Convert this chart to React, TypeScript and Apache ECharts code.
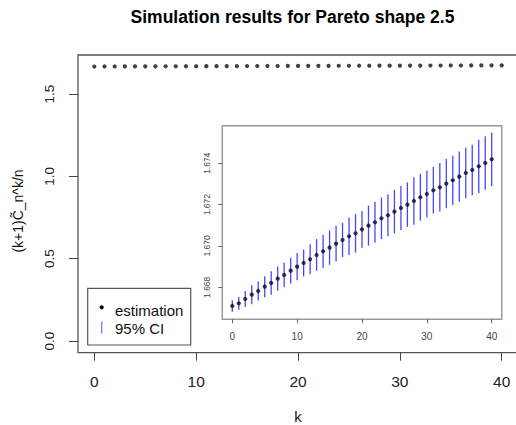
import React, { useEffect, useRef } from "react";
import * as echarts from "echarts";

const kValues = [0, 1, 2, 3, 4, 5, 6, 7, 8, 9, 10, 11, 12, 13, 14, 15, 16, 17, 18, 19, 20,
  21, 22, 23, 24, 25, 26, 27, 28, 29, 30, 31, 32, 33, 34, 35, 36, 37, 38, 39, 40];

const estimation = [1.667097, 1.667226, 1.667435, 1.667645, 1.667823, 1.668032, 1.66821,
  1.668419, 1.668597, 1.668806, 1.669, 1.669177, 1.669355, 1.669565, 1.669742, 1.669919,
  1.670113, 1.67029, 1.670468, 1.670613, 1.670806, 1.670984, 1.671145, 1.671339, 1.671484,
  1.671661, 1.671839, 1.672, 1.672177, 1.672355, 1.672516, 1.672694, 1.672839, 1.673016,
  1.673177, 1.673355, 1.673532, 1.673677, 1.673855, 1.674016, 1.674194];

const ciLower = [1.666815, 1.66692, 1.667048, 1.667185, 1.667363, 1.667524, 1.667645,
  1.66783, 1.668008, 1.668185, 1.668339, 1.668532, 1.668629, 1.668799, 1.668936, 1.669088,
  1.66925, 1.669467, 1.669557, 1.669678, 1.669919, 1.670016, 1.670153, 1.670331, 1.670468,
  1.670613, 1.670774, 1.670927, 1.671032, 1.671226, 1.671387, 1.671565, 1.671662, 1.671822,
  1.671983, 1.672145, 1.672306, 1.672451, 1.672565, 1.672726, 1.672904];

const ciUpper = [1.667379, 1.667532, 1.667822, 1.668105, 1.668283, 1.66854, 1.668775,
  1.669008, 1.669186, 1.669427, 1.669661, 1.669822, 1.670081, 1.670331, 1.670548, 1.67075,
  1.670976, 1.671113, 1.671379, 1.671548, 1.671693, 1.671952, 1.672137, 1.672347, 1.6725,
  1.672709, 1.672904, 1.673073, 1.673322, 1.673484, 1.673645, 1.673823, 1.674016, 1.67421,
  1.674371, 1.674565, 1.674758, 1.674903, 1.675145, 1.675306, 1.675484];

const xTicks = [0, 10, 20, 30, 40];
const yTicksMain = [0, 0.5, 1.0, 1.5];
const yTicksInset = [1.668, 1.67, 1.672, 1.674];

const TITLE = "Simulation results for Pareto shape 2.5";
const X_NAME = "k";
const Y_NAME = "(k+1)C\u0303_n^k/n";
const LEGEND_LABELS = ["estimation", "95% CI"];

const FONT = "'Liberation Sans', Arial, Helvetica, sans-serif";

export default function App() {
  const ref = useRef<HTMLDivElement>(null);

  useEffect(() => {
    if (!ref.current) return;
    const chart = echarts.init(ref.current, undefined, { renderer: "svg" });

    const pointData = kValues.map((k, i) => [k, estimation[i]]);
    const ciData = kValues.map((k, i) => [k, ciLower[i], ciUpper[i]]);

    const ciRender = (color: string, width: number) => (params: any, api: any) => {
      const x = api.value(0);
      const p1 = api.coord([x, api.value(1)]);
      const p2 = api.coord([x, api.value(2)]);
      return {
        type: "line",
        shape: { x1: p1[0], y1: p1[1], x2: p2[0], y2: p2[1] },
        style: { stroke: color, lineWidth: width },
      };
    };

    const option: any = {
      animation: false,
      backgroundColor: "#ffffff",
      grid: [
        {
          left: 78, top: 55, width: 440, height: 297.7,
          show: true, borderColor: "#555", borderWidth: 1.3, backgroundColor: "transparent",
          containLabel: false, outerBoundsMode: "none",
        },
        {
          left: 222.3, top: 125.7, width: 279.4, height: 193.6,
          show: true, borderColor: "#999", borderWidth: 1.5, backgroundColor: "#ffffff",
          containLabel: false, outerBoundsMode: "none", z: 5,
        },
      ],
      xAxis: [
        {
          type: "value", gridIndex: 0, min: -1.6, max: 41.6, position: "bottom",
          name: X_NAME, nameLocation: "middle", nameGap: 57,
          nameTextStyle: { fontSize: 15, lineHeight: 14, color: "#111", fontFamily: FONT },
          axisLine: { show: false, onZero: false }, splitLine: { show: false },
          axisTick: { show: true, inside: false, length: 8, customValues: xTicks, lineStyle: { color: "#444", width: 1 } },
          axisLabel: { customValues: xTicks, margin: 21, fontSize: 15.5, color: "#222", fontFamily: FONT },
        },
        {
          type: "value", gridIndex: 1, min: -1.54, max: 41.54, position: "bottom",
          axisLine: { show: false, onZero: false }, splitLine: { show: false },
          axisTick: { show: true, inside: false, length: 4, customValues: xTicks, lineStyle: { color: "#666", width: 1 } },
          axisLabel: { customValues: xTicks, margin: 12, fontSize: 10, color: "#444", fontFamily: FONT },
          z: 5,
        },
      ],
      yAxis: [
        {
          type: "value", gridIndex: 0, min: -0.071, max: 1.737, position: "left",
          axisLine: { show: false, onZero: false }, splitLine: { show: false },
          axisTick: { show: true, inside: false, length: 9, customValues: yTicksMain, lineStyle: { color: "#444", width: 1 } },
          axisLabel: {
            customValues: yTicksMain, rotate: 90, margin: 22, fontSize: 13.5, color: "#222", fontFamily: FONT,
            formatter: (v: number) => v.toFixed(1),
          },
        },
        {
          type: "value", gridIndex: 1, min: 1.666452, max: 1.675819, position: "left",
          axisLine: { show: false, onZero: false }, splitLine: { show: false },
          axisTick: { show: true, inside: false, length: 4, customValues: yTicksInset, lineStyle: { color: "#666", width: 1 } },
          axisLabel: {
            customValues: yTicksInset, rotate: 90, margin: 11, fontSize: 8.5, color: "#444", fontFamily: FONT,
            formatter: (v: number) => v.toFixed(3),
          },
          z: 5,
        },
      ],
      series: [
        {
          type: "scatter", xAxisIndex: 0, yAxisIndex: 0, data: pointData,
          symbol: "circle", symbolSize: 4.2, itemStyle: { color: "#111" }, z: 2,
        },
        {
          type: "custom", xAxisIndex: 0, yAxisIndex: 0, data: ciData,
          renderItem: ciRender("#2b2bff", 1), z: 3,
        },
        {
          type: "custom", xAxisIndex: 1, yAxisIndex: 1, data: ciData,
          renderItem: ciRender("#4646ff", 1.3), z: 6,
        },
        {
          type: "scatter", xAxisIndex: 1, yAxisIndex: 1, data: pointData,
          symbol: "circle", symbolSize: 4.2, itemStyle: { color: "#0a0a1a" }, z: 7,
        },
      ],
      graphic: [
        {
          type: "text", x: 292.5, y: 17,
          style: {
            text: TITLE, fontSize: 17.5, fontWeight: "bold", fill: "#000",
            fontFamily: FONT, textAlign: "center", textVerticalAlign: "middle",
          },
        },
        {
          type: "text", x: 18, y: 211, rotation: Math.PI / 2,
          style: {
            text: Y_NAME, fontSize: 14, fill: "#111",
            fontFamily: FONT, textAlign: "center", textVerticalAlign: "middle",
          },
        },
        {
          type: "rect", shape: { x: 87.7, y: 288.3, width: 103, height: 56.7 },
          style: { fill: "#fff", stroke: "#555", lineWidth: 1.2 }, z: 10,
        },
        {
          type: "circle", shape: { cx: 101.7, cy: 307.3, r: 2.1 },
          style: { fill: "#000" }, z: 11,
        },
        {
          type: "line", shape: { x1: 101.7, y1: 321.5, x2: 101.7, y2: 333.5 },
          style: { stroke: "#6a6aff", lineWidth: 1.2 }, z: 11,
        },
        {
          type: "text", x: 115, y: 310.7, z: 11,
          style: {
            text: LEGEND_LABELS[0], fontSize: 15, fill: "#111", fontFamily: FONT,
            textAlign: "left", textVerticalAlign: "middle",
          },
        },
        {
          type: "text", x: 115, y: 328.3, z: 11,
          style: {
            text: LEGEND_LABELS[1], fontSize: 15, fill: "#111", fontFamily: FONT,
            textAlign: "left", textVerticalAlign: "middle",
          },
        },
      ],
    };

    chart.setOption(option);
    return () => chart.dispose();
  }, []);

  return (
    <div
      ref={ref}
      style={{ position: "fixed", left: 0, top: 0, width: 516, height: 425, background: "#fff" }}
    />
  );
}
